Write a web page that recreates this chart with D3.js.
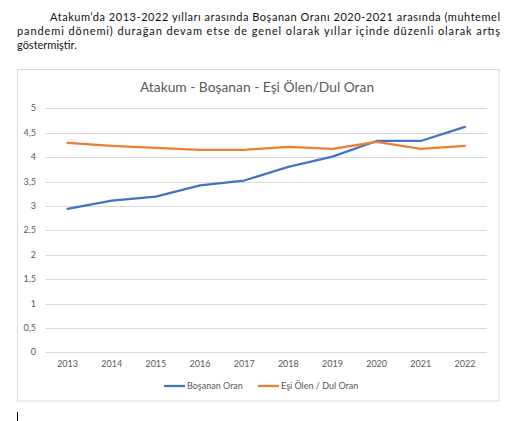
<!DOCTYPE html>
<html>
<head>
<meta charset="utf-8">
<script src="https://cdn.jsdelivr.net/npm/d3@7"></script>
<style>
  body { margin: 0; background: #fff; }
  svg { display: block; }
</style>
</head>
<body>
<svg id="viz" width="521" height="421"></svg>
<script>
// data
const years = ["2013", "2014", "2015", "2016", "2017", "2018", "2019", "2020", "2021", "2022"];
const bosanan = [2.94, 3.11, 3.19, 3.42, 3.52, 3.80, 4.01, 4.33, 4.33, 4.62];
const esiOlen = [4.29, 4.23, 4.19, 4.15, 4.15, 4.21, 4.17, 4.31, 4.17, 4.23];
const yTicks = [0, 0.5, 1, 1.5, 2, 2.5, 3, 3.5, 4, 4.5, 5];
const seriesNames = ["Boşanan Oran", "Eşi Ölen / Dul Oran"];
const seriesColors = ["#4472C4", "#ED7D31"];
const chartTitle = "Atakum - Boşanan - Eşi Ölen/Dul Oran";
const paragraph = [
  "Atakum’da 2013-2022 yılları arasında Boşanan Oranı 2020-2021 arasında (muhtemel",
  "pandemi dönemi) durağan devam etse de genel olarak yıllar içinde düzenli olarak artış",
  "göstermiştir."
];

const svg = d3.select("#viz");
const font = "Lato, 'Open Sans', sans-serif";

// paragraph above the chart, justified
const para = svg.append("g").attr("font-family", font).attr("font-size", 11).attr("fill", "#111");
para.append("text").attr("x", 50).attr("y", 21).text(paragraph[0])
    .attr("textLength", 450).attr("lengthAdjust", "spacing");
para.append("text").attr("x", 17).attr("y", 35).text(paragraph[1])
    .attr("textLength", 483).attr("lengthAdjust", "spacing");
para.append("text").attr("x", 17).attr("y", 48.5).text(paragraph[2]);

// chart frame
svg.append("rect")
    .attr("x", 17.5).attr("y", 69.5)
    .attr("width", 481.5).attr("height", 331.5)
    .attr("fill", "#fff").attr("stroke", "#d9d9d9").attr("stroke-width", 1);

// text cursor below chart
svg.append("line")
    .attr("x1", 17.5).attr("x2", 17.5).attr("y1", 412).attr("y2", 421)
    .attr("stroke", "#000").attr("stroke-width", 1);

const x = d3.scaleBand().domain(years).range([45.5, 487]);
const y = d3.scaleLinear().domain([0, 5]).range([352.3, 108.3]);

// title
svg.append("text")
    .attr("x", 257).attr("y", 92)
    .attr("text-anchor", "middle")
    .attr("font-family", font).attr("font-size", 13.8)
    .attr("fill", "#595959")
    .text(chartTitle);

// gridlines
svg.append("g").selectAll("line")
    .data(yTicks)
    .join("line")
    .attr("x1", x.range()[0]).attr("x2", x.range()[1])
    .attr("y1", d => Math.round(y(d)) + 0.5).attr("y2", d => Math.round(y(d)) + 0.5)
    .attr("stroke", "#d9d9d9").attr("stroke-width", 1);

// y axis labels
svg.append("g").selectAll("text")
    .data(yTicks)
    .join("text")
    .attr("x", 36).attr("y", d => y(d))
    .attr("dy", "0.35em")
    .attr("text-anchor", "end")
    .attr("font-family", font).attr("font-size", 9)
    .attr("fill", "#595959")
    .text(d => String(d).replace(".", ","));

// x axis labels
svg.append("g").selectAll("text")
    .data(years)
    .join("text")
    .attr("x", d => x(d) + x.bandwidth() / 2).attr("y", 364)
    .attr("dy", "0.35em")
    .attr("text-anchor", "middle")
    .attr("font-family", font).attr("font-size", 9)
    .attr("fill", "#595959")
    .text(d => d);

// lines
const line = d3.line()
    .x((d, i) => x(years[i]) + x.bandwidth() / 2)
    .y(d => y(d));

[bosanan, esiOlen].forEach((vals, k) => {
  svg.append("path")
      .datum(vals)
      .attr("d", line)
      .attr("fill", "none")
      .attr("stroke", seriesColors[k])
      .attr("stroke-width", 2.25)
      .attr("stroke-linejoin", "round")
      .attr("stroke-linecap", "round");
});

// legend
const legendX = [164, 258];
const legend = svg.append("g").selectAll("g")
    .data(seriesNames)
    .join("g")
    .attr("transform", (d, i) => `translate(${legendX[i]},386)`);
legend.append("line")
    .attr("x1", 0).attr("x2", 21)
    .attr("stroke", (d, i) => seriesColors[i])
    .attr("stroke-width", 2.25);
legend.append("text")
    .attr("x", 23).attr("dy", "0.35em")
    .attr("font-family", font).attr("font-size", 9)
    .attr("fill", "#595959")
    .text(d => d);
</script>
</body>
</html>
